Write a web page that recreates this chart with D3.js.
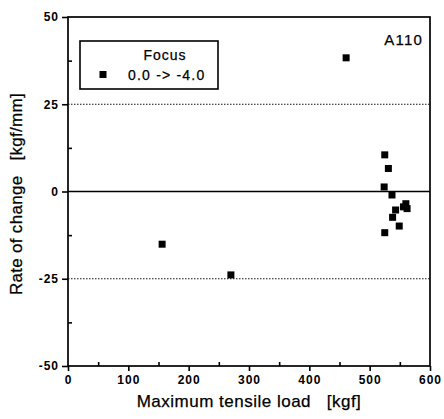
<!DOCTYPE html>
<html>
<head>
<meta charset="utf-8">
<script src="https://cdn.jsdelivr.net/npm/d3@7"></script>
<style>
  body { margin: 0; background: #fff; }
  text { font-family: "Liberation Sans", Arial, sans-serif; fill: #000; }
  .title { stroke: #000; stroke-width: 0.25px; }
</style>
</head>
<body>
<svg id="chart" width="444" height="419"></svg>
<script>
// values
var loadKgf = [461, 156, 270, 525, 531, 524, 537, 538, 525, 549, 543, 556, 560, 562]
var rateOfChange = [38.3, -15.1, -23.9, 10.5, 6.6, 1.3, -1.0, -7.4, -11.8, -9.9, -5.3, -4.4, -3.5, -4.9]
var xTicks = [0, 100, 200, 300, 400, 500, 600]
var yTicks = [-50, -25, 0, 25, 50]
var refLines = [25, -25]

var svg = d3.select('#chart')
var x = d3.scaleLinear().domain([0, 600]).range([68, 430])
var y = d3.scaleLinear().domain([-50, 50]).range([366, 17])
var fmt = d => String(d)   // plain hyphen, like the original

function styleTicks(g) {
  g.select('.domain').remove()
  g.selectAll('line').attr('stroke', '#000').attr('stroke-width', 1.6)
  g.selectAll('text')
    .style('font-family', '"Liberation Sans", Arial, sans-serif')
    .style('font-size', '12px')
    .style('font-weight', 'bold')
    .style('letter-spacing', '1px')
    .style('fill', '#000')
}

var axes = svg.append('g')

// frame
axes.append('rect')
  .attr('x', x(0)).attr('y', y(50))
  .attr('width', x(600) - x(0)).attr('height', y(-50) - y(50))
  .attr('fill', 'none').attr('stroke', '#000').attr('stroke-width', 1.7)

// reference dotted lines
axes.selectAll('line.ref')
  .data(refLines)
  .join('line')
  .attr('class', 'ref')
  .attr('x1', x(0)).attr('x2', x(600))
  .attr('y1', d => y(d)).attr('y2', d => y(d))
  .attr('stroke', '#111').attr('stroke-width', 1)
  .attr('stroke-dasharray', '1.5,1.5')

// zero line
axes.append('line')
  .attr('x1', x(0)).attr('x2', x(600))
  .attr('y1', y(0)).attr('y2', y(0))
  .attr('stroke', '#000').attr('stroke-width', 1.6)

// bottom axis: major ticks outward, minor inward
axes.append('g').attr('transform', 'translate(0,' + y(-50) + ')')
  .call(d3.axisBottom(x).tickValues(xTicks).tickSize(5).tickPadding(4).tickFormat(fmt))
  .call(styleTicks)
axes.append('g').attr('transform', 'translate(0,' + y(-50) + ')')
  .call(d3.axisTop(x).tickValues(d3.range(50, 600, 100)).tickSize(4).tickFormat(''))
  .call(styleTicks)

// left axis
axes.append('g').attr('transform', 'translate(' + x(0) + ',0)')
  .call(d3.axisLeft(y).tickValues(yTicks).tickSize(6).tickPadding(3).tickFormat(fmt))
  .call(styleTicks)
axes.append('g').attr('transform', 'translate(' + x(0) + ',0)')
  .call(d3.axisRight(y).tickValues([-37.5, -12.5, 12.5, 37.5]).tickSize(4).tickFormat(''))
  .call(styleTicks)

// axis titles
svg.append('text')
  .attr('class', 'title')
  .attr('x', 249).attr('y', 407)
  .attr('text-anchor', 'middle').attr('font-size', 17)
  .attr('letter-spacing', 0.5)
  .attr('xml:space', 'preserve')
  .text('Maximum tensile load   [kgf]')
svg.append('text')
  .attr('class', 'title')
  .attr('transform', 'translate(22,194) rotate(-90)')
  .attr('text-anchor', 'middle').attr('font-size', 17)
  .attr('letter-spacing', 0.3)
  .attr('xml:space', 'preserve')
  .text('Rate of change   [kgf/mm]')

svg.append('text')
  .attr('class', 'title')
  .attr('x', 423).attr('y', 45)
  .attr('text-anchor', 'end').attr('font-size', 15)
  .attr('letter-spacing', 1.2)
  .text('A110')

// legend
var legend = svg.append('g')
legend.append('rect')
  .attr('x', 80).attr('y', 41).attr('width', 138).attr('height', 48)
  .attr('fill', '#fff').attr('stroke', '#000').attr('stroke-width', 1.6)
legend.append('text')
  .attr('class', 'title')
  .attr('x', 165).attr('y', 60).attr('text-anchor', 'middle').attr('font-size', 14)
  .attr('letter-spacing', 1)
  .text('Focus')
legend.append('rect')
  .attr('x', 99.5).attr('y', 71).attr('width', 7).attr('height', 7).attr('fill', '#000')
legend.append('text')
  .attr('class', 'title')
  .attr('x', 128).attr('y', 80).attr('font-size', 14)
  .attr('letter-spacing', 1.2)
  .text('0.0 -> -4.0')

// points
var pts = d3.zip(loadKgf, rateOfChange)
svg.append('g')
  .selectAll('rect')
  .data(pts)
  .join('rect')
  .attr('x', d => x(d[0]) - 3.5)
  .attr('y', d => y(d[1]) - 3.5)
  .attr('width', 7).attr('height', 7)
  .attr('fill', '#000')
</script>
</body>
</html>
